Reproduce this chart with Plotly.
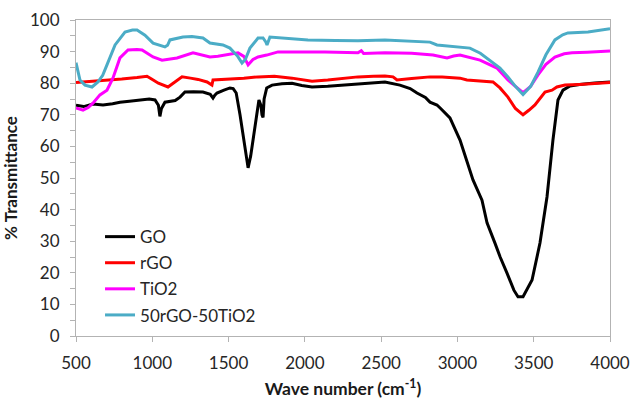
import plotly.graph_objects as go

# ---- data ----
go_x = [500, 550, 611, 677, 740, 788, 850, 919, 980, 1018, 1040, 1050, 1060, 1083, 1150, 1182, 1200, 1214, 1270, 1332,
        1380, 1398, 1410, 1424, 1470, 1509, 1530, 1550, 1575, 1600, 1615, 1628, 1645, 1673, 1686, 1699, 1712, 1719, 1726,
        1733, 1750, 1785, 1850, 1916, 1980, 2047, 2150, 2250, 2348, 2450, 2525, 2623, 2690, 2735, 2790, 2820, 2866, 2890,
        2918, 2951, 3017, 3102, 3161, 3194, 3246, 3280, 3325, 3370, 3397, 3430, 3489, 3541, 3587, 3626, 3659, 3692, 3738,
        3800, 3900, 4000]
go_y = [73, 72.6, 73.4, 73.1, 73.5, 74, 74.3, 74.7, 75, 74.7, 73, 69.5, 72, 74, 74.5, 75.6, 76.5, 77.2, 77.3, 77.2,
        76.5, 75.3, 76.2, 76.9, 77.8, 78.5, 78.3, 76.9, 70, 62, 56, 53.2, 57, 67, 71, 74.7, 73, 70, 69.2,
        75, 78.5, 79.4, 79.8, 80, 79.3, 78.8, 79, 79.4, 79.7, 80, 80.4, 79.4, 78.3, 76.9, 75.5, 74, 73.1, 72,
        70.6, 69, 62, 49.4, 43, 35.8, 29.4, 25, 19.9, 14.5, 12.4, 12.4, 17.7, 29.4, 44, 62, 74.7, 77.8, 79.1,
        79.6, 80.1, 80.4]

rgo_x = [500, 600, 700, 800, 900, 965, 990, 1040, 1103, 1150, 1195, 1250, 1300, 1359, 1391, 1398, 1450, 1509, 1600,
         1693, 1800, 1916, 2047, 2150, 2250, 2348, 2450, 2525, 2578, 2604, 2700, 2820, 2900, 3017, 3062, 3150, 3233,
         3279, 3331, 3380, 3430, 3470, 3508, 3574, 3620, 3652, 3705, 3800, 3900, 4000]
rgo_y = [80.2, 80.5, 80.9, 81.3, 81.8, 82.2, 81.5, 80, 78.8, 80.5, 82, 81.6, 81.2, 80.4, 79.4, 81, 81.1, 81.3, 81.6,
         82, 82.2, 81.6, 80.6, 81, 81.5, 82, 82.2, 82.3, 82, 81, 81.5, 82, 82, 81.6, 81, 80.8, 80.4,
         78.5, 75.6, 72, 70, 71.5, 73.1, 77.2, 77.8, 78.8, 79.4, 79.6, 79.8, 80.2]

tio2_x = [500, 520, 546, 580, 611, 657, 703, 742, 765, 788, 841, 900, 933, 970, 1005, 1064, 1162, 1267, 1378, 1430,
          1490, 1562, 1600, 1628, 1660, 1693, 1750, 1824, 1950, 2132, 2348, 2370, 2385, 2525, 2700, 2840, 2932, 2975,
          3017, 3148, 3259, 3331, 3380, 3430, 3480, 3528, 3580, 3639, 3700, 3751, 3850, 3920, 4000]
tio2_y = [72.2, 72, 71.5, 72.3, 73.7, 76.3, 77.8, 81.6, 85, 88, 90.5, 90.7, 90.5, 89.5, 88.3, 87.3, 88, 89.6, 88.3, 88.5,
          88.9, 89.6, 88.5, 85.8, 87.5, 88.3, 88.9, 89.9, 89.9, 89.9, 89.6, 90.3, 89.4, 89.6, 89.5, 88.9, 88, 88.6,
          88.9, 87.3, 84.8, 81, 79, 77, 79, 82.6, 86, 88.3, 89.3, 89.6, 89.8, 90, 90.2]

mix_x = [500, 526, 559, 605, 644, 675, 703, 756, 821, 870, 900, 952, 1005, 1050, 1083, 1100, 1116, 1201, 1260, 1332,
         1378, 1463, 1509, 1560, 1588, 1610, 1640, 1693, 1726, 1745, 1752, 1771, 1900, 2020, 2200, 2348, 2525, 2700,
         2820, 2866, 2971, 3082, 3150, 3213, 3279, 3331, 3380, 3430, 3480, 3528, 3580, 3639, 3690, 3724, 3856, 4000]
mix_y = [86.5, 81, 79.4, 78.8, 80.4, 82.5, 85.8, 92.1, 96.2, 96.8, 96.8, 95.2, 92.7, 92, 91.5, 92, 93.7, 94.6, 94.8, 94.3,
         92.7, 92.1, 91.1, 88.5, 86.4, 87.5, 91.1, 94.3, 94.3, 93, 92.1, 94.6, 94.2, 93.7, 93.5, 93.4, 93.7, 93.3,
         93, 92.1, 91.5, 91.1, 89.5, 87.3, 84.8, 82, 79, 76.4, 79, 83.5, 89, 93.7, 95.3, 95.9, 96.2, 97.2]

series = [
    ("GO", go_x, go_y, "#000000"),
    ("rGO", rgo_x, rgo_y, "#ff0000"),
    ("TiO2", tio2_x, tio2_y, "#ff00ff"),
    ("50rGO-50TiO2", mix_x, mix_y, "#4bacc6"),
]

FONT = "Lato, 'Open Sans', sans-serif"

fig = go.Figure()
for name, xs, ys, col in series:
    fig.add_trace(go.Scatter(x=xs, y=ys, mode="lines", name=name, legendgroup=name,
                             line=dict(color=col, width=3)))

axis_common = dict(showgrid=False, zeroline=False, showline=True, linecolor="#b3b3b3", linewidth=1,
                   mirror=True, ticks="outside", ticklen=5, tickcolor="#b3b3b3", automargin=False,
                   tickfont=dict(family=FONT, size=17, color="#262626"))

fig.update_layout(
    width=632, height=399,
    margin=dict(l=76, r=22, t=20, b=63),
    paper_bgcolor="white", plot_bgcolor="white",
    font=dict(family=FONT, size=17, color="#262626"),
    xaxis=dict(range=[500, 4000], dtick=500, tick0=500, ticklabelstandoff=7,
               title=dict(text="<b>Wave number (cm<sup>-1</sup>)</b>", font=dict(family=FONT, size=17.5, color="#1a1a1a"),
                          standoff=10),
               **axis_common),
    yaxis=dict(range=[0, 100], dtick=10, ticklabelstandoff=7,
               minor=dict(dtick=5, ticks="outside", ticklen=5, tickcolor="#b3b3b3"),
               title=dict(text="<b>% Transmittance</b>", font=dict(family=FONT, size=17, color="#1a1a1a"),
                          standoff=8),
               **axis_common),
    legend=dict(x=0.045, y=0.37, xanchor="left", yanchor="top", bgcolor="rgba(0,0,0,0)",
                font=dict(family=FONT, size=17, color="#262626"), tracegroupgap=1,
                traceorder="grouped"),
    showlegend=True,
)

fig.write_html("out.html")
